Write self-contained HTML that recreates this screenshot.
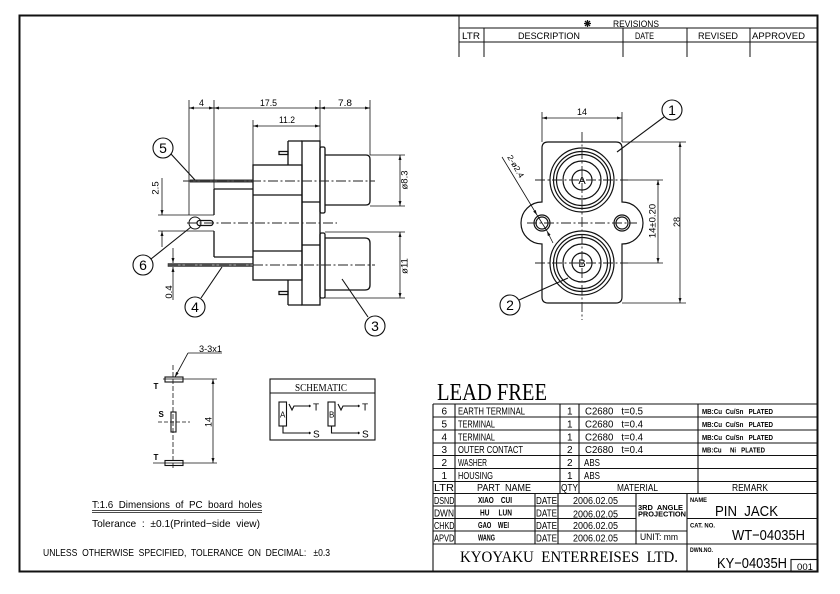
<!DOCTYPE html>
<html><head><meta charset="utf-8"><style>
html,body{margin:0;padding:0;background:#fff;}
svg{display:block;}
text{font-family:"Liberation Sans",sans-serif;fill:#000;white-space:pre;}
.s{font-family:"Liberation Serif",serif;}
.b{font-weight:bold;}
</style></head><body>
<svg width="840" height="594" viewBox="0 0 840 594" xmlns="http://www.w3.org/2000/svg" xml:space="preserve">
<defs>
<marker id="ar" viewBox="0 0 10 6" refX="10" refY="3" markerWidth="6" markerHeight="3" markerUnits="userSpaceOnUse" orient="auto-start-reverse"><path d="M0,0 L10,3 L0,6 z" fill="#111"/></marker>
</defs>
<rect width="840" height="594" fill="#fff"/>

<!-- border -->
<rect x="19.5" y="15.5" width="798" height="556" fill="none" stroke="#111" stroke-width="2"/>

<!-- revisions table -->
<g fill="none" stroke="#111" stroke-width="1">
<path d="M459 15V57 M484 28V57 M623 28V57 M687 28V57 M750 28V57 M459 28H817 M459 42H817"/>
<path d="M584 23.5H591 M587.5 20V27 M585 21L590 26 M590 21L585 26" stroke-width="1.3"/>
</g>
<g font-size="9.5">
<text x="613" y="27" textLength="46" lengthAdjust="spacingAndGlyphs">REVISIONS</text>
<text x="462" y="39" textLength="18" lengthAdjust="spacingAndGlyphs">LTR</text>
<text x="518" y="39" textLength="62" lengthAdjust="spacingAndGlyphs">DESCRIPTION</text>
<text x="635" y="39" textLength="19" lengthAdjust="spacingAndGlyphs">DATE</text>
<text x="698" y="39" textLength="40" lengthAdjust="spacingAndGlyphs">REVISED</text>
<text x="752" y="39" textLength="53" lengthAdjust="spacingAndGlyphs">APPROVED</text>
</g>

<!-- LEFT SIDE VIEW -->
<g fill="none" stroke="#111" stroke-width="0.8">
<path d="M189 100V215 M214 100V215 M214 231V257 M320 100V141 M370 100V155 M253 120V165"/>
<line x1="189" y1="108" x2="214" y2="108" marker-start="url(#ar)" marker-end="url(#ar)"/>
<line x1="214" y1="108" x2="320" y2="108" marker-start="url(#ar)" marker-end="url(#ar)"/>
<line x1="320" y1="108" x2="370" y2="108" marker-start="url(#ar)" marker-end="url(#ar)"/>
<line x1="253" y1="126" x2="320" y2="126" marker-start="url(#ar)" marker-end="url(#ar)"/>
<path d="M158 215H214 M158 231H214"/>
<line x1="162" y1="178" x2="162" y2="215" marker-end="url(#ar)"/>
<line x1="162" y1="247" x2="162" y2="231" marker-end="url(#ar)"/>
<line x1="173" y1="248" x2="173" y2="263" marker-end="url(#ar)"/>
<line x1="173" y1="300" x2="173" y2="267" marker-end="url(#ar)"/>
<path d="M370 155H405 M370 206H405 M325 232H405 M325 298H405"/>
<line x1="400" y1="155" x2="400" y2="206" marker-start="url(#ar)" marker-end="url(#ar)"/>
<line x1="400" y1="232" x2="400" y2="298" marker-start="url(#ar)" marker-end="url(#ar)"/>
</g>
<g fill="none" stroke="#111" stroke-width="1.3">
<path d="M214 189H253 M214 257H253 M214 189V215 M214 231V257"/>
<rect x="253" y="165" width="49" height="115"/>
<path d="M253 195H302 M253 251H302"/>
<rect x="302" y="141" width="18" height="164"/>
<path d="M288 141H302 M288 141V165 M288 305H302 M288 280V305 M302 202H320 M302 245H320"/>
<rect x="279" y="151.5" width="9" height="3"/>
<rect x="279" y="291.5" width="9" height="3"/>
<rect x="320" y="147" width="5" height="66" rx="1.5"/>
<rect x="320" y="233" width="5" height="65" rx="1.5"/>
<path d="M325 155H366 Q370 155 370 159V201 Q370 205 366 205H325"/>
<path d="M325 238H365 Q370 238 370 243V285 Q370 290 365 290H325"/>
<rect x="197" y="220.5" width="16" height="5" rx="2.5"/>
<circle cx="195" cy="223" r="6" stroke-width="1"/>
</g>
<rect x="190" y="179.8" width="63" height="2.4" fill="#444" stroke="#111" stroke-width="0.4"/>
<rect x="168" y="263.5" width="85" height="3" fill="#777" stroke="#111" stroke-width="0.5"/>
<g fill="none" stroke="#222" stroke-width="0.9" stroke-dasharray="10 2.5 2 2.5">
<path d="M183 181H375 M187 223H337 M168 265H375"/>
</g>
<g fill="none" stroke="#111" stroke-width="1.1">
<circle cx="163" cy="148" r="10"/><line x1="171" y1="154" x2="195" y2="180"/>
<circle cx="143" cy="265" r="10"/><line x1="151" y1="259" x2="191" y2="227"/>
<circle cx="195" cy="307" r="10"/><line x1="201" y1="298" x2="222" y2="267"/>
<circle cx="375" cy="326" r="10"/><line x1="368" y1="317" x2="342" y2="279"/>
</g>
<g font-size="14" text-anchor="middle">
<text x="163" y="153">5</text>
<text x="143" y="270">6</text>
<text x="195" y="312">4</text>
<text x="375" y="331">3</text>
</g>
<g font-size="9.5">
<text x="199" y="106" textLength="5" lengthAdjust="spacingAndGlyphs">4</text>
<text x="260" y="106" textLength="17" lengthAdjust="spacingAndGlyphs">17.5</text>
<text x="338" y="106" textLength="14" lengthAdjust="spacingAndGlyphs">7.8</text>
<text x="279" y="123" textLength="16" lengthAdjust="spacingAndGlyphs">11.2</text>
<text transform="translate(158.5,188) rotate(-90)" text-anchor="middle">2.5</text>
<text transform="translate(172,292) rotate(-90)" text-anchor="middle">0.4</text>
<text transform="translate(407.5,180) rotate(-90)" text-anchor="middle">ø8.3</text>
<text transform="translate(407.5,266) rotate(-90)" text-anchor="middle">ø11</text>
</g>

<!-- FRONT VIEW -->
<g fill="none" stroke="#111" stroke-width="1.2">
<path d="M548,142 H616 Q622,142 622,148 V202 A21,21 0 0 1 622,244 V297 Q622,303 616,303 H548 Q542,303 542,297 V244 A21,21 0 0 1 542,202 V148 Q542,142 548,142 Z"/>
<circle cx="582" cy="180" r="32"/><circle cx="582" cy="180" r="28.5"/><circle cx="582" cy="180" r="25.5"/><circle cx="582" cy="180" r="19"/><circle cx="582" cy="180" r="10"/>
<circle cx="582" cy="263" r="32"/><circle cx="582" cy="263" r="28.5"/><circle cx="582" cy="263" r="25.5"/><circle cx="582" cy="263" r="19"/><circle cx="582" cy="263" r="10"/>
<circle cx="542" cy="223" r="8"/><circle cx="542" cy="223" r="6"/>
<circle cx="622" cy="223" r="8"/><circle cx="622" cy="223" r="6"/>
</g>
<g fill="none" stroke="#222" stroke-width="0.9" stroke-dasharray="10 2.5 2 2.5">
<path d="M582 132V320 M535 180H628 M535 263H628 M527 223H637"/>
</g>
<g fill="none" stroke="#111" stroke-width="0.8">
<path d="M542 112V142 M622 112V142 M628 180H663 M628 263H663 M622 142H686 M622 303H686"/>
<line x1="542" y1="118" x2="622" y2="118" marker-start="url(#ar)" marker-end="url(#ar)"/>
<line x1="658" y1="180" x2="658" y2="263" marker-start="url(#ar)" marker-end="url(#ar)"/>
<line x1="680" y1="142" x2="680" y2="303" marker-start="url(#ar)" marker-end="url(#ar)"/>
<line x1="502" y1="157" x2="537" y2="215" marker-end="url(#ar)"/>
<line x1="537" y1="215" x2="547" y2="231"/>
<line x1="553" y1="243" x2="547" y2="231" marker-end="url(#ar)"/>
<circle cx="672" cy="110" r="10" stroke-width="1.1"/><line x1="664" y1="117" x2="617" y2="152" stroke-width="1.1"/>
<circle cx="510" cy="305" r="10" stroke-width="1.1"/><line x1="519" y1="300" x2="568" y2="278" stroke-width="1.1"/>
</g>
<g font-size="14" text-anchor="middle">
<text x="672" y="115">1</text>
<text x="510" y="310">2</text>
</g>
<g font-size="9.5">
<text x="577" y="115" textLength="10" lengthAdjust="spacingAndGlyphs">14</text>
<text transform="translate(655.5,221) rotate(-90)" text-anchor="middle">14±0.20</text>
<text transform="translate(680,222) rotate(-90)" text-anchor="middle" font-size="9">28</text>
<text transform="translate(507,157) rotate(59.5)" font-size="8" textLength="25" lengthAdjust="spacingAndGlyphs">2-ø2.4</text>
</g>
<g text-anchor="middle" class="s">
<text x="582" y="184" font-size="11">A</text>
<text x="582" y="267" font-size="11">B</text>
</g>

<!-- PC BOARD HOLES -->
<g fill="none" stroke="#111" stroke-width="0.8">
<path d="M173 365V470" stroke-dasharray="5 2"/>
<path d="M163 379H217 M153 463H217"/>
<path d="M158 422H190" stroke-dasharray="4 2"/>
<rect x="165" y="377" width="18" height="5" stroke-width="1.1"/>
<rect x="171" y="412" width="5" height="20" stroke-width="1.1"/>
<rect x="165" y="460.5" width="18" height="5" stroke-width="1.1"/>
<line x1="213" y1="379" x2="213" y2="463" marker-start="url(#ar)" marker-end="url(#ar)"/>
<path d="M188 353H222"/>
<line x1="188" y1="353" x2="175" y2="377" marker-end="url(#ar)"/>
</g>
<g font-size="8" class="b">
<text x="153.5" y="389">T</text>
<text x="158.5" y="417">S</text>
<text x="153.5" y="460">T</text>
</g>
<text x="199" y="352" font-size="9" textLength="23" lengthAdjust="spacingAndGlyphs">3-3x1</text>
<text transform="translate(211.5,422) rotate(-90)" text-anchor="middle" font-size="9">14</text>

<!-- SCHEMATIC -->
<g fill="none" stroke="#111" stroke-width="1.1">
<rect x="270" y="379" width="105" height="61"/>
<path d="M270 393H375"/>
<rect x="279" y="402" width="7.5" height="24"/>
<rect x="328" y="402" width="7" height="24"/>
<path d="M289 404L292 410L294 406H308 M283 426V433H308"/>
<path d="M338 404L341 410L343 406H357 M331.5 426V433H357"/>
</g>
<g fill="#111">
<circle cx="309.5" cy="406" r="1.2"/><circle cx="309.5" cy="433" r="1.2"/>
<circle cx="358.5" cy="406" r="1.2"/><circle cx="358.5" cy="433" r="1.2"/>
</g>
<text x="295" y="391" class="s" font-size="11" textLength="52" lengthAdjust="spacingAndGlyphs">SCHEMATIC</text>
<g class="s" font-size="10">
<text x="313" y="410.5">T</text><text x="313" y="437.5">S</text>
<text x="362" y="410.5">T</text><text x="362" y="437.5">S</text>
<text x="280" y="417.5" font-size="8">A</text><text x="329" y="417.5" font-size="8">B</text>
</g>

<!-- LEAD FREE -->
<text x="437" y="400" class="s" font-size="24" textLength="110" lengthAdjust="spacingAndGlyphs">LEAD FREE</text>

<!-- PARTS TABLE -->
<g fill="none" stroke="#111" stroke-width="1.1">
<path d="M433 404H818 M433 417H818 M433 430H818 M433 443H818 M433 455.5H818 M433 468.5H818 M433 481.5H818 M433 493.5H818"/>
<path d="M433 404V572 M455 404V493.5 M560 404V493.5 M579 404V493.5 M698 404V493.5"/>
<path d="M433 506H636 M433 518.5H636 M433 531H687 M433 544H818 M687 518.5H818"/>
<path d="M455 493.5V544 M535 493.5V544 M558 493.5V544 M636 493.5V544 M687 493.5V572"/>
<rect x="791" y="559.5" width="27" height="12.5"/>
</g>
<g font-size="10">
<text x="441.5" y="414.5">6</text>
<text x="441.5" y="427.4">5</text>
<text x="441.5" y="440.3">4</text>
<text x="441.5" y="453.2">3</text>
<text x="441.5" y="466.1">2</text>
<text x="441.5" y="479">1</text>
<text x="458" y="414.5" textLength="67" lengthAdjust="spacingAndGlyphs">EARTH TERMINAL</text>
<text x="458" y="427.4" textLength="37" lengthAdjust="spacingAndGlyphs">TERMINAL</text>
<text x="458" y="440.3" textLength="37" lengthAdjust="spacingAndGlyphs">TERMINAL</text>
<text x="458" y="453.2" textLength="65" lengthAdjust="spacingAndGlyphs">OUTER CONTACT</text>
<text x="458" y="466.1" textLength="29" lengthAdjust="spacingAndGlyphs">WASHER</text>
<text x="458" y="479" textLength="35" lengthAdjust="spacingAndGlyphs">HOUSING</text>
<text x="567" y="414.5">1</text>
<text x="567" y="427.4">1</text>
<text x="567" y="440.3">1</text>
<text x="567" y="453.2">2</text>
<text x="567" y="466.1">2</text>
<text x="567" y="479">1</text>
<text x="585" y="414.5" textLength="58" lengthAdjust="spacingAndGlyphs">C2680   t=0.5</text>
<text x="585" y="427.4" textLength="58" lengthAdjust="spacingAndGlyphs">C2680   t=0.4</text>
<text x="585" y="440.3" textLength="58" lengthAdjust="spacingAndGlyphs">C2680   t=0.4</text>
<text x="585" y="453.2" textLength="58" lengthAdjust="spacingAndGlyphs">C2680   t=0.4</text>
<text x="584" y="466.1" textLength="16" lengthAdjust="spacingAndGlyphs">ABS</text>
<text x="584" y="479" textLength="16" lengthAdjust="spacingAndGlyphs">ABS</text>
</g>
<g font-size="7.5" class="b">
<text x="702" y="414" textLength="71" lengthAdjust="spacingAndGlyphs">MB:Cu  Cu/Sn   PLATED</text>
<text x="702" y="427" textLength="71" lengthAdjust="spacingAndGlyphs">MB:Cu  Cu/Sn   PLATED</text>
<text x="702" y="440" textLength="71" lengthAdjust="spacingAndGlyphs">MB:Cu  Cu/Sn   PLATED</text>
<text x="702" y="452.7" textLength="63" lengthAdjust="spacingAndGlyphs">MB:Cu     Ni   PLATED</text>
</g>
<g font-size="10">
<text x="434" y="491" textLength="20" lengthAdjust="spacingAndGlyphs">LTR</text>
<text x="477" y="491" textLength="54" lengthAdjust="spacingAndGlyphs">PART  NAME</text>
<text x="561" y="491" textLength="17" lengthAdjust="spacingAndGlyphs">QTY</text>
<text x="617" y="491" textLength="41" lengthAdjust="spacingAndGlyphs">MATERIAL</text>
<text x="732" y="491" textLength="36" lengthAdjust="spacingAndGlyphs">REMARK</text>
<text x="434" y="504" textLength="20.5" lengthAdjust="spacingAndGlyphs">DSND</text>
<text x="434" y="516.5" textLength="20" lengthAdjust="spacingAndGlyphs">DWN</text>
<text x="434" y="529" textLength="20.5" lengthAdjust="spacingAndGlyphs">CHKD</text>
<text x="434" y="541.5" textLength="20.5" lengthAdjust="spacingAndGlyphs">APVD</text>
<text x="536" y="504" textLength="21" lengthAdjust="spacingAndGlyphs">DATE</text>
<text x="536" y="516.5" textLength="21" lengthAdjust="spacingAndGlyphs">DATE</text>
<text x="536" y="529" textLength="21" lengthAdjust="spacingAndGlyphs">DATE</text>
<text x="536" y="541.5" textLength="21" lengthAdjust="spacingAndGlyphs">DATE</text>
<text x="573" y="504" textLength="45" lengthAdjust="spacingAndGlyphs">2006.02.05</text>
<text x="573" y="517.5" textLength="45" lengthAdjust="spacingAndGlyphs">2006.02.05</text>
<text x="573" y="529" textLength="45" lengthAdjust="spacingAndGlyphs">2006.02.05</text>
<text x="573" y="541.5" textLength="45" lengthAdjust="spacingAndGlyphs">2006.02.05</text>
</g>
<g font-size="8" class="b">
<text x="478" y="503" textLength="34" lengthAdjust="spacingAndGlyphs">XIAO    CUI</text>
<text x="480" y="515.5" textLength="32" lengthAdjust="spacingAndGlyphs">HU     LUN</text>
<text x="478" y="528" textLength="31" lengthAdjust="spacingAndGlyphs">GAO    WEI</text>
<text x="478" y="540.5" textLength="17" lengthAdjust="spacingAndGlyphs">WANG</text>
</g>
<g font-size="7" class="b">
<text x="638" y="510" textLength="45" lengthAdjust="spacingAndGlyphs">3RD  ANGLE</text>
<text x="638" y="516.5" textLength="48" lengthAdjust="spacingAndGlyphs">PROJECTION</text>
<text x="690" y="502" font-size="6" textLength="17" lengthAdjust="spacingAndGlyphs">NAME</text>
<text x="690" y="527.5" font-size="6" textLength="25" lengthAdjust="spacingAndGlyphs">CAT. NO.</text>
<text x="690" y="552" font-size="6" textLength="23" lengthAdjust="spacingAndGlyphs">DWN.NO.</text>
</g>
<text x="640" y="540" font-size="9" textLength="38" lengthAdjust="spacingAndGlyphs">UNIT: mm</text>
<text x="715" y="516" font-size="15" textLength="63" lengthAdjust="spacingAndGlyphs">PIN  JACK</text>
<text x="732" y="540" font-size="15" textLength="73" lengthAdjust="spacingAndGlyphs">WT−04035H</text>
<text x="717" y="568" font-size="15" textLength="70" lengthAdjust="spacingAndGlyphs">KY−04035H</text>
<text x="797" y="570" font-size="9" textLength="16" lengthAdjust="spacingAndGlyphs">001</text>
<text x="460" y="562" class="s" font-size="16" textLength="218" lengthAdjust="spacingAndGlyphs">KYOYAKU  ENTERREISES  LTD.</text>

<!-- bottom-left notes -->
<text x="92" y="508" font-size="10.5" textLength="170" lengthAdjust="spacingAndGlyphs">T:1.6  Dimensions  of  PC  board  holes</text>
<path d="M92 510.5H262 M92 512.5H262" stroke="#111" stroke-width="0.7" fill="none"/>
<text x="92" y="527" font-size="10.5" textLength="168" lengthAdjust="spacingAndGlyphs">Tolerance  :  ±0.1(Printed−side  view)</text>
<text x="43" y="556" font-size="10.5" textLength="287" lengthAdjust="spacingAndGlyphs">UNLESS  OTHERWISE  SPECIFIED,  TOLERANCE  ON  DECIMAL:   ±0.3</text>
</svg>
</body></html>
